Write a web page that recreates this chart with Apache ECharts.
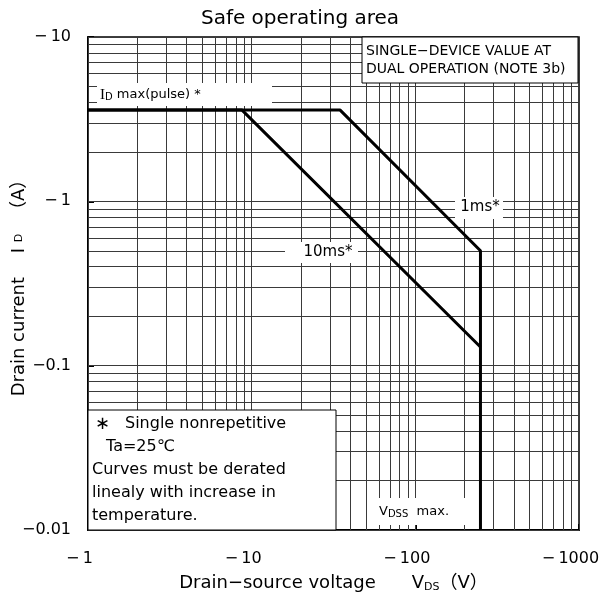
<!DOCTYPE html>
<html>
<head>
<meta charset="utf-8">
<script src="https://cdn.jsdelivr.net/npm/echarts@6/dist/echarts.min.js"></script>
<style>
  html, body { margin: 0; padding: 0; background: #fff; }
  #chart { width: 600px; height: 607px; }
</style>
</head>
<body>
<div id="chart"></div>
<script>
// P-channel device: drain-source voltage (V) and drain current (A) are negative.
const xTicks = [-1, -10, -100, -1000];
const yTicks = [-0.01, -0.1, -1, -10];

// Log grid lines (1..9 in each decade)
const gridVds = [1, 2, 3, 4, 5, 6, 7, 8, 9,
                 10, 20, 30, 40, 50, 60, 70, 80, 90,
                 100, 200, 300, 400, 500, 600, 700, 800, 900, 1000];
const gridId = [0.01, 0.02, 0.03, 0.04, 0.05, 0.06, 0.07, 0.08, 0.09,
                0.1, 0.2, 0.3, 0.4, 0.5, 0.6, 0.7, 0.8, 0.9,
                1, 2, 3, 4, 5, 6, 7, 8, 9, 10];

// 1 ms pulse limit (includes I_D max(pulse) and V_DSS max boundary)
const vds1ms = [-1, -34.6, -250, -250];
const id1ms = [-3.6, -3.6, -0.5, -0.01];

// 10 ms pulse limit
const vds10ms = [-1, -8.7, -250];
const id10ms = [-3.6, -3.6, -0.13];

const FONT = '"DejaVu Sans", "Noto Sans CJK JP", sans-serif';

function toPoints(xs, ys) {
  return xs.map((v, i) => [Math.abs(v), Math.abs(ys[i])]);
}

const xMin = Math.abs(xTicks[0]), xMax = Math.abs(xTicks[xTicks.length - 1]);
const yMin = Math.abs(yTicks[0]), yMax = Math.abs(yTicks[yTicks.length - 1]);

const chart = echarts.init(document.getElementById('chart'), null, { renderer: 'canvas' });

const gridLines = gridVds.map(v => ({ xAxis: v })).concat(gridId.map(v => ({ yAxis: v })));

function signed(v) {
  return v >= 1 ? '\u2212\u2009' + v : '\u2212' + v;
}

const option = {
  animation: false,
  backgroundColor: '#fff',
  title: {
    text: 'Safe operating area',
    left: 'center',
    top: 4,
    textStyle: { fontFamily: FONT, fontSize: 20, fontWeight: 'normal', color: '#000' }
  },
  grid: {
    left: 88, top: 37, right: 21, bottom: 77,
    containLabel: false,
    outerBoundsMode: 'none',
    show: true, borderColor: '#000', borderWidth: 1.5, backgroundColor: 'transparent'
  },
  xAxis: {
    type: 'log', logBase: 10, min: xMin, max: xMax,
    name: 'Drain\u2212source voltage\u3000\u3000V{sub|DS}\uFF08V\uFF09',
    nameLocation: 'middle', nameGap: 44, nameMoveOverlap: false,
    nameTextStyle: {
      fontFamily: FONT, fontSize: 18, color: '#000',
      rich: { sub: { fontFamily: FONT, fontSize: 11, color: '#000', verticalAlign: 'bottom', padding: [8, 0, 0, 0] } }
    },
    axisLine: { show: true, lineStyle: { color: '#000', width: 2 } },
    axisTick: { show: true, inside: true, length: 6, lineStyle: { color: '#000', width: 2 } },
    splitLine: { show: false },
    axisLabel: {
      fontFamily: FONT, fontSize: 16, color: '#000', margin: 21,
      padding: [0, 17, 0, 0],
      formatter: v => '\u2212\u2009' + v
    }
  },
  yAxis: {
    type: 'log', logBase: 10, min: yMin, max: yMax,
    name: 'Drain current\u3000 I {sub|D} \u3000\uFF08A\uFF09',
    nameLocation: 'middle', nameGap: 60, nameMoveOverlap: false,
    nameTextStyle: {
      fontFamily: FONT, fontSize: 18, color: '#000',
      rich: { sub: { fontFamily: FONT, fontSize: 11, color: '#000' } }
    },
    axisLine: { show: true, lineStyle: { color: '#000', width: 2 } },
    axisTick: { show: true, inside: true, length: 6, lineStyle: { color: '#000', width: 2 } },
    splitLine: { show: false },
    axisLabel: {
      fontFamily: FONT, fontSize: 16, color: '#000', margin: 17,
      formatter: signed
    }
  },
  series: [
    {
      name: 'grid',
      type: 'line',
      data: [],
      silent: true,
      z: 1,
      markLine: {
        silent: true,
        symbol: ['none', 'none'],
        label: { show: false },
        lineStyle: { color: '#3a3a3a', width: 1, type: 'solid' },
        emphasis: { disabled: true },
        animation: false,
        data: gridLines
      }
    },
    {
      name: '1ms',
      type: 'line',
      data: toPoints(vds1ms, id1ms),
      showSymbol: false,
      symbol: 'none',
      z: 5,
      lineStyle: { color: '#000', width: 3 }
    },
    {
      name: '10ms',
      type: 'line',
      data: toPoints(vds10ms, id10ms),
      showSymbol: false,
      symbol: 'none',
      z: 5,
      lineStyle: { color: '#000', width: 3 }
    }
  ],
  graphic: {
    elements: [
      // I_D max(pulse) label
      { type: 'rect', z: 100, shape: { x: 97, y: 83, width: 175, height: 23 }, style: { fill: '#fff' } },
      {
        type: 'text', z: 101, x: 100, y: 95,
        style: {
          text: '{big|I}{sub|D} max(pulse) *',
          fontFamily: FONT, fontSize: 13, fill: '#000', verticalAlign: 'middle',
          rich: {
            big: { fontFamily: 'Liberation Serif, serif', fontSize: 15, fill: '#000' },
            sub: { fontFamily: FONT, fontSize: 10, fill: '#000', padding: [5, 0, 0, 0] }
          }
        }
      },
      // Operating note box, top right
      { type: 'rect', z: 100, shape: { x: 362, y: 37, width: 216, height: 46 }, style: { fill: '#fff', stroke: '#000', lineWidth: 1 } },
      { type: 'text', z: 101, x: 366, y: 51, style: { text: 'SINGLE\u2212DEVICE VALUE AT', fontFamily: FONT, fontSize: 14, fill: '#000', verticalAlign: 'middle' } },
      { type: 'text', z: 101, x: 366, y: 69, style: { text: 'DUAL OPERATION (NOTE 3b)', fontFamily: FONT, fontSize: 14, fill: '#000', verticalAlign: 'middle' } },
      // 1 ms and 10 ms curve labels
      { type: 'rect', z: 100, shape: { x: 455, y: 197, width: 48, height: 22 }, style: { fill: '#fff' } },
      { type: 'text', z: 101, x: 480, y: 207, style: { text: '1ms*', fontFamily: FONT, fontSize: 15, fill: '#000', align: 'center', verticalAlign: 'middle' } },
      { type: 'rect', z: 100, shape: { x: 285, y: 242, width: 73, height: 21 }, style: { fill: '#fff' } },
      { type: 'text', z: 101, x: 328, y: 252, style: { text: '10ms*', fontFamily: FONT, fontSize: 15, fill: '#000', align: 'center', verticalAlign: 'middle' } },
      // V_DSS max label
      { type: 'rect', z: 100, shape: { x: 377, y: 498, width: 88, height: 27 }, style: { fill: '#fff' } },
      {
        type: 'text', z: 101, x: 379, y: 512,
        style: {
          text: 'V{sub|DSS}  max.',
          fontFamily: FONT, fontSize: 13, fill: '#000', verticalAlign: 'middle',
          rich: { sub: { fontFamily: FONT, fontSize: 10, fill: '#000', padding: [5, 0, 0, 0] } }
        }
      },
      // Note box, bottom left
      { type: 'rect', z: 100, shape: { x: 88, y: 410, width: 248, height: 120 }, style: { fill: '#fff', stroke: '#000', lineWidth: 1 } },
      { type: 'text', z: 101, x: 95, y: 424, style: { text: '\u2217', fontFamily: FONT, fontSize: 18, fill: '#000', verticalAlign: 'middle' } },
      { type: 'text', z: 101, x: 125, y: 424, style: { text: 'Single nonrepetitive', fontFamily: FONT, fontSize: 16, fill: '#000', verticalAlign: 'middle' } },
      { type: 'text', z: 101, x: 106, y: 447, style: { text: 'Ta=25\u2103', fontFamily: FONT, fontSize: 16, fill: '#000', verticalAlign: 'middle' } },
      { type: 'text', z: 101, x: 92, y: 470, style: { text: 'Curves must be derated', fontFamily: FONT, fontSize: 16, fill: '#000', verticalAlign: 'middle' } },
      { type: 'text', z: 101, x: 92, y: 493, style: { text: 'linealy with increase in', fontFamily: FONT, fontSize: 16, fill: '#000', verticalAlign: 'middle' } },
      { type: 'text', z: 101, x: 92, y: 516, style: { text: 'temperature.', fontFamily: FONT, fontSize: 16, fill: '#000', verticalAlign: 'middle' } }
    ]
  }
};

chart.setOption(option);
</script>
</body>
</html>
